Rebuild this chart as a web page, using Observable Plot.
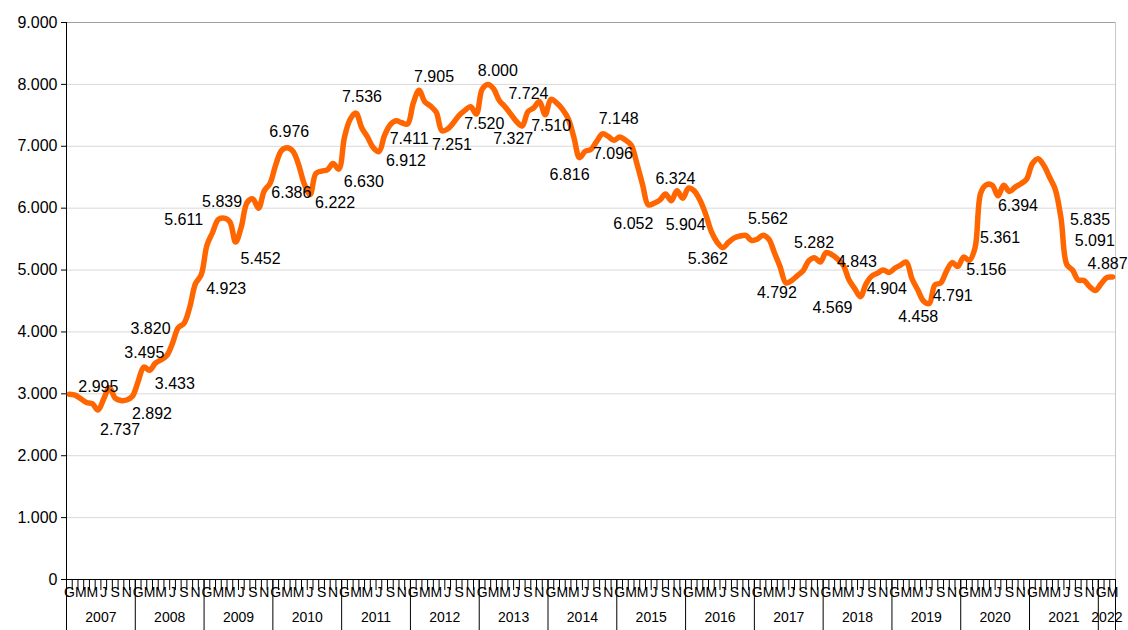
<!DOCTYPE html>
<html>
<head>
<meta charset="utf-8">
<script src="https://cdn.jsdelivr.net/npm/d3@7"></script>
<script src="https://cdn.jsdelivr.net/npm/@observablehq/plot@0.6"></script>
<style>
  html, body { margin: 0; padding: 0; background: #fff; }
  #chart svg { display: block; }
</style>
</head>
<body>
<div id="chart"></div>
<script>
// Monthly series, Jan 2007 (index 0) .. Mar 2022 (index 182)
const years = ["2007","2008","2009","2010","2011","2012","2013","2014","2015","2016","2017","2018","2019","2020","2021","2022"];
const monthLetters = ["G","M","M","J","S","N"]; // every other month, from January
const yTicks = [0,1000,2000,3000,4000,5000,6000,7000,8000,9000];

const values = [
  2995,2980,2920,2860,2840,2737,2920,3100,2930,2892,2900,2960,   // 2007
  3200,3433,3380,3495,3550,3620,3820,4070,4140,4400,4780,4923,   // 2008
  5400,5611,5820,5839,5780,5452,5700,6090,6150,6000,6280,6400,   // 2009
  6700,6930,6976,6920,6700,6386,6222,6560,6600,6620,6720,6630,   // 2010
  7150,7440,7536,7300,7150,6980,6912,7180,7350,7411,7380,7360,   // 2011
  7700,7905,7720,7650,7550,7251,7280,7380,7500,7580,7640,7520,   // 2012
  7920,8000,7930,7740,7640,7520,7400,7327,7560,7620,7724,7510,   // 2013
  7760,7700,7600,7450,7150,6816,6920,6950,7080,7200,7160,7096,   // 2014
  7148,7100,7020,6720,6380,6052,6080,6130,6230,6120,6280,6160,   // 2015
  6324,6280,6130,5904,5620,5450,5362,5450,5520,5550,5560,5480,   // 2016
  5500,5562,5500,5280,5050,4792,4830,4910,4990,5150,5200,5130,   // 2017
  5282,5250,5180,5080,4843,4700,4569,4780,4904,4950,5000,4960,   // 2018
  5030,5080,5130,4860,4680,4500,4458,4760,4791,4980,5120,5060,   // 2019
  5210,5156,5361,6250,6380,6370,6200,6370,6270,6340,6394,6470,   // 2020
  6720,6800,6690,6500,6300,5835,5091,5000,4840,4830,4730,4670,   // 2021
  4780,4880,4887                                                  // 2022
];

// months that carry a value label
const labelled = [0,5,9,13,15,18,23,25,27,29,38,41,42,47,50,54,57,61,65,71,73,79,82,83,89,95,96,101,108,111,114,121,125,132,136,138,140,150,152,157,158,166,173,174,182];
// label nudges [dx, dy] in px, in the same order as `labelled`
const labelNudges = [
  [29,-7],[22,20],[31,13],[31,17],[-11,-10],[-22,-14],[25,14],[-29,-12],[-2,-16],[25,17],
  [2,-16],[-13,9],[25,8],[25,13],[6,-16],[27,9],[13,18],[15,-13],[10,14],[8,10],
  [10,-14],[-9,13],[-11,-8],[6,11],[-10,17],[-1,14],[-1,-18],[-15,19],[-13,-9],[-20,11],
  [-15,11],[5,-16],[-9,10],[-12,-10],[8,-18],[-28,11],[15,13],[-11,13],[12,13],[17,9],
  [25,-10],[-3,22],[29,1],[28,-24],[-5,-13]
];

const itLocale = d3.formatLocale({decimal: ",", thousands: ".", grouping: [3], currency: ["", "€"]});
const fmt = itLocale.format(",d");

const data = values.map((v, i) => ({i, v}));
const n = values.length;

const monthBoundaries = d3.range(n + 1).map(k => k - 0.5);
const yearBoundaries = d3.range(0, n, 12).map(k => k - 0.5).concat([n - 0.5]);
const yearCenters = years.map((y, k) => (12 * k + Math.min(12 * k + 11, n - 1)) / 2);
const monthLabelTicks = d3.range(0, n, 2);

const labelMarks = labelled.map((idx, j) => Plot.text([data[idx]], {
  x: "i", y: "v", text: d => fmt(d.v),
  dx: labelNudges[j][0], dy: labelNudges[j][1],
  fontSize: 16, fill: "#000", textAnchor: "middle"
}));

const chart = Plot.plot({
  width: 1128,
  height: 630,
  marginLeft: 66,
  marginRight: 13,
  marginTop: 22,
  marginBottom: 51,
  style: {fontFamily: "'Liberation Sans', Arial, sans-serif", fontSize: "16px", background: "#fff", color: "#000"},
  x: {type: "linear", domain: [-0.5, n - 0.5]},
  y: {domain: [0, 9000]},
  marks: [
    Plot.gridY(yTicks, {stroke: "#d9d9d9", strokeOpacity: 1}),
    Plot.ruleY([9000], {stroke: "#a0a0a0"}),
    Plot.ruleX([n - 0.5], {stroke: "#c8c8c8"}),
    Plot.axisY(yTicks, {tickSize: 5, tickPadding: 4, tickFormat: fmt, fontSize: 16, label: null}),
    Plot.axisX(monthBoundaries, {tickSize: 11, tickFormat: () => "", label: null}),
    Plot.axisX(monthLabelTicks, {tickSize: 0, tickPadding: 8, tickFormat: d => monthLetters[(d % 12) / 2], fontSize: 14, label: null}),
    Plot.axisX(yearBoundaries, {tickSize: 51, tickFormat: () => "", label: null}),
    Plot.axisX(yearCenters, {tickSize: 0, tickPadding: 33, tickFormat: d => years[Math.floor(d / 12)], fontSize: 14, label: null}),
    Plot.ruleX([-0.5], {stroke: "#000"}),
    Plot.ruleY([0], {stroke: "#000"}),
    Plot.line(data, {x: "i", y: "v", stroke: "#ff6600", strokeWidth: 5.5, curve: "catmull-rom", strokeLinejoin: "round", strokeLinecap: "round"}),
    ...labelMarks
  ]
});

document.getElementById("chart").appendChild(chart);
</script>
</body>
</html>
